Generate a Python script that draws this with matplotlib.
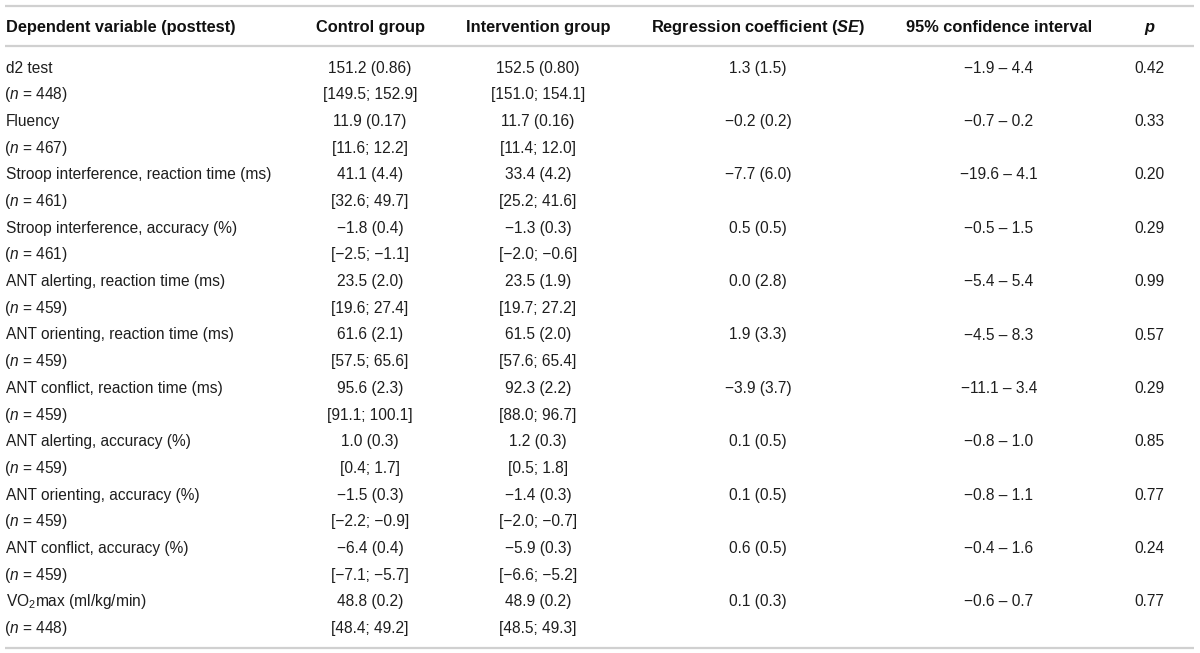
import matplotlib
matplotlib.use("Agg")
import matplotlib.pyplot as plt

plt.rcParams['font.family'] = ['Liberation Sans', 'DejaVu Sans']
plt.rcParams['mathtext.fontset'] = 'custom'
plt.rcParams['mathtext.rm'] = 'Liberation Sans'
plt.rcParams['mathtext.it'] = 'Liberation Sans:italic'
plt.rcParams['mathtext.bf'] = 'Liberation Sans:bold:italic'

# ---- data ----
headers = ["Dependent variable (posttest)", "Control group", "Intervention group",
           r"Regression coefficient ($\mathbf{SE}$)", "95% confidence interval", "p"]
labels = ["d2 test", "Fluency", "Stroop interference, reaction time (ms)",
          "Stroop interference, accuracy (%)", "ANT alerting, reaction time (ms)",
          "ANT orienting, reaction time (ms)", "ANT conflict, reaction time (ms)",
          "ANT alerting, accuracy (%)", "ANT orienting, accuracy (%)",
          "ANT conflict, accuracy (%)", r"VO$_2$max (ml/kg/min)"]
n_sizes = [448, 467, 461, 461, 459, 459, 459, 459, 459, 459, 448]
se_decimals = [2, 2, 1, 1, 1, 1, 1, 1, 1, 1, 1]
ctrl_mean = [151.2, 11.9, 41.1, -1.8, 23.5, 61.6, 95.6, 1.0, -1.5, -6.4, 48.8]
ctrl_se = [0.86, 0.17, 4.4, 0.4, 2.0, 2.1, 2.3, 0.3, 0.3, 0.4, 0.2]
ctrl_lo = [149.5, 11.6, 32.6, -2.5, 19.6, 57.5, 91.1, 0.4, -2.2, -7.1, 48.4]
ctrl_hi = [152.9, 12.2, 49.7, -1.1, 27.4, 65.6, 100.1, 1.7, -0.9, -5.7, 49.2]
int_mean = [152.5, 11.7, 33.4, -1.3, 23.5, 61.5, 92.3, 1.2, -1.4, -5.9, 48.9]
int_se = [0.80, 0.16, 4.2, 0.3, 1.9, 2.0, 2.2, 0.3, 0.3, 0.3, 0.2]
int_lo = [151.0, 11.4, 25.2, -2.0, 19.7, 57.6, 88.0, 0.5, -2.0, -6.6, 48.5]
int_hi = [154.1, 12.0, 41.6, -0.6, 27.2, 65.4, 96.7, 1.8, -0.7, -5.2, 49.3]
coef = [1.3, -0.2, -7.7, 0.5, 0.0, 1.9, -3.9, 0.1, 0.1, 0.6, 0.1]
coef_se = [1.5, 0.2, 6.0, 0.5, 2.8, 3.3, 3.7, 0.5, 0.5, 0.5, 0.3]
ci_lo = [-1.9, -0.7, -19.6, -0.5, -5.4, -4.5, -11.1, -0.8, -0.8, -0.4, -0.6]
ci_hi = [4.4, 0.2, 4.1, 1.5, 5.4, 8.3, 3.4, 1.0, 1.1, 1.6, 0.7]
p_values = [0.42, 0.33, 0.20, 0.29, 0.99, 0.57, 0.29, 0.85, 0.77, 0.24, 0.77]


def f(v, d=1):
    return f"{v:.{d}f}".replace("-", "\u2212")


# ---- layout ----
W, H = 1200, 653
fig = plt.figure(figsize=(W / 100, H / 100), dpi=100)
ax = fig.add_axes([0, 0, 1, 1])
ax.set_xlim(0, W)
ax.set_ylim(H, 0)
ax.axis('off')

col_x = [6, 370, 538, 758, 999, 1149]
col_ha = ['left', 'center', 'center', 'center', 'center', 'center']
fs = 11.2
fs_head = 11.8
txt_col = '#1e1e1e'
line_col = '#d0d0d0'
row0 = 67.5
dy = 26.68
base_off = 5.2

for y in (6, 46, 648):
    ax.plot([5, 1194], [y, y], color=line_col, lw=1.6, solid_capstyle='butt')

for i, h in enumerate(headers):
    style = 'italic' if h == 'p' else 'normal'
    ax.text(col_x[i], 27 + base_off, h, ha=col_ha[i], va='baseline', fontsize=fs_head,
            fontweight='bold', fontstyle=style, color='#111111')

for k in range(len(labels)):
    y1 = row0 + (2 * k) * dy + base_off
    y2 = row0 + (2 * k + 1) * dy + base_off
    d = se_decimals[k]
    row1 = [labels[k],
            f"{f(ctrl_mean[k])} ({f(ctrl_se[k], d)})",
            f"{f(int_mean[k])} ({f(int_se[k], d)})",
            f"{f(coef[k])} ({f(coef_se[k])})",
            f"{f(ci_lo[k])} \u2013 {f(ci_hi[k])}",
            f(p_values[k], 2)]
    row2 = [f"($\\mathit{{n}}$ = {n_sizes[k]})",
            f"[{f(ctrl_lo[k])}; {f(ctrl_hi[k])}]",
            f"[{f(int_lo[k])}; {f(int_hi[k])}]",
            "", "", ""]
    for i in range(6):
        ax.text(col_x[i], y1, row1[i], ha=col_ha[i], va='baseline', fontsize=fs,
                color=txt_col)
        if row2[i]:
            x = col_x[i] - (1.5 if i == 0 else 0)
            ax.text(x, y2, row2[i], ha=col_ha[i], va='baseline', fontsize=fs,
                    color=txt_col)

fig.savefig("out.png", dpi=100)
